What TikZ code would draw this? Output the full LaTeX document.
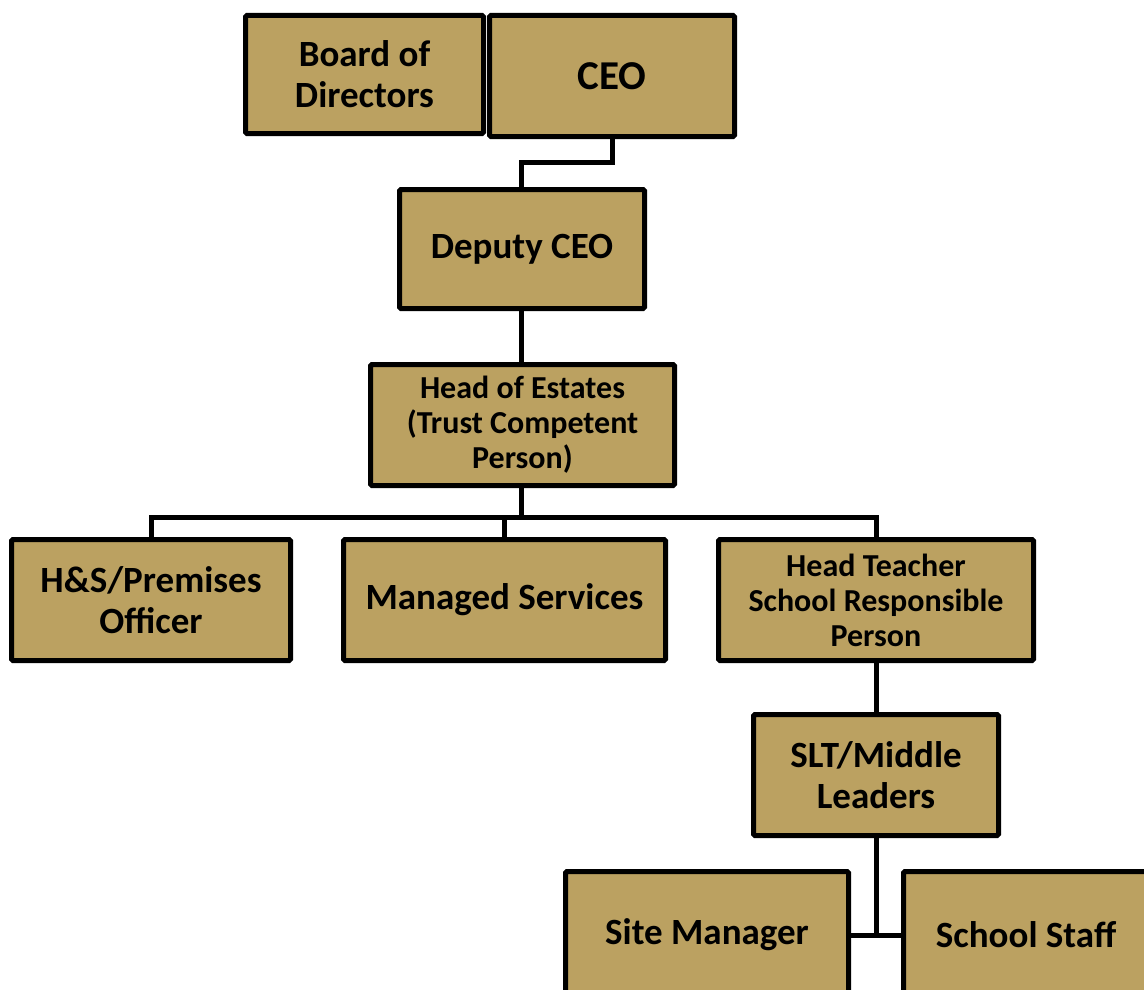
\documentclass[tikz,border=0pt]{standalone}
\usepackage{fontspec}
\setmainfont{Carlito}
\definecolor{boxfill}{RGB}{187,161,97}
\tikzset{
  box/.style={draw=black, fill=boxfill, line width=5pt, rounded corners=1.5pt,
    align=center, inner sep=2pt, font=\bfseries\fontsize{37}{41}\selectfont},
  smallbox/.style={box, font=\bfseries\fontsize{32}{35}\selectfont},
  bigbox/.style={box, font=\bfseries\fontsize{41}{45}\selectfont},
  conn/.style={draw=black, line width=5pt}
}
\begin{document}
\begin{tikzpicture}[x=1pt,y=-1pt]
\useasboundingbox (0,0) rectangle (1144,990);
\clip (0,0) rectangle (1144,990);
\node[box, minimum width=238pt, minimum height=118pt] (board) at (364.5,74.5) {Board of\\Directors};
\node[bigbox, minimum width=245pt, minimum height=121pt] (ceo) at (612,76) {CEO};
\node[box, minimum width=245pt, minimum height=119pt] (dep) at (522,249) {Deputy CEO};
\node[smallbox, minimum width=304pt, minimum height=121pt] (hoe) at (522.5,425) {Head of Estates\\(Trust Competent\\Person)};
\node[box, minimum width=279pt, minimum height=121pt] (hs) at (151,600) {H\&S/Premises\\Officer};
\node[box, minimum width=322pt, minimum height=121pt] (ms) at (504.5,600) {Managed Services};
\node[smallbox, minimum width=315pt, minimum height=121pt] (ht) at (876,600) {Head Teacher\\School Responsible\\Person};
\node[box, minimum width=245pt, minimum height=121pt] (slt) at (876,775) {SLT/Middle\\Leaders};
\node[box, minimum width=283pt, minimum height=127pt] (site) at (707,935) {Site Manager};
\node[box, minimum width=245pt, minimum height=127pt] (staff) at (1026,935) {School Staff};
\coordinate (bus) at (521,517);
\coordinate (mid) at (521,162);
% connectors
\draw[conn] (ceo.south -| 612,0) |- (mid) -- (dep.north -| mid);
\draw[conn] (dep.south -| mid) -- (hoe.north -| mid);
\draw[conn] (hoe.south -| mid) -- (bus);
\draw[conn] (hs.north) |- (ht.north |- bus) -- (ht.north);
\draw[conn] (ms.north) -- (ms.north |- bus);
\draw[conn] (ht.south) -- (slt.north);
\draw[conn] (slt.south) -- (slt.south |- site.east);
\draw[conn] (site.east) -- (staff.west);
\end{tikzpicture}
\end{document}
